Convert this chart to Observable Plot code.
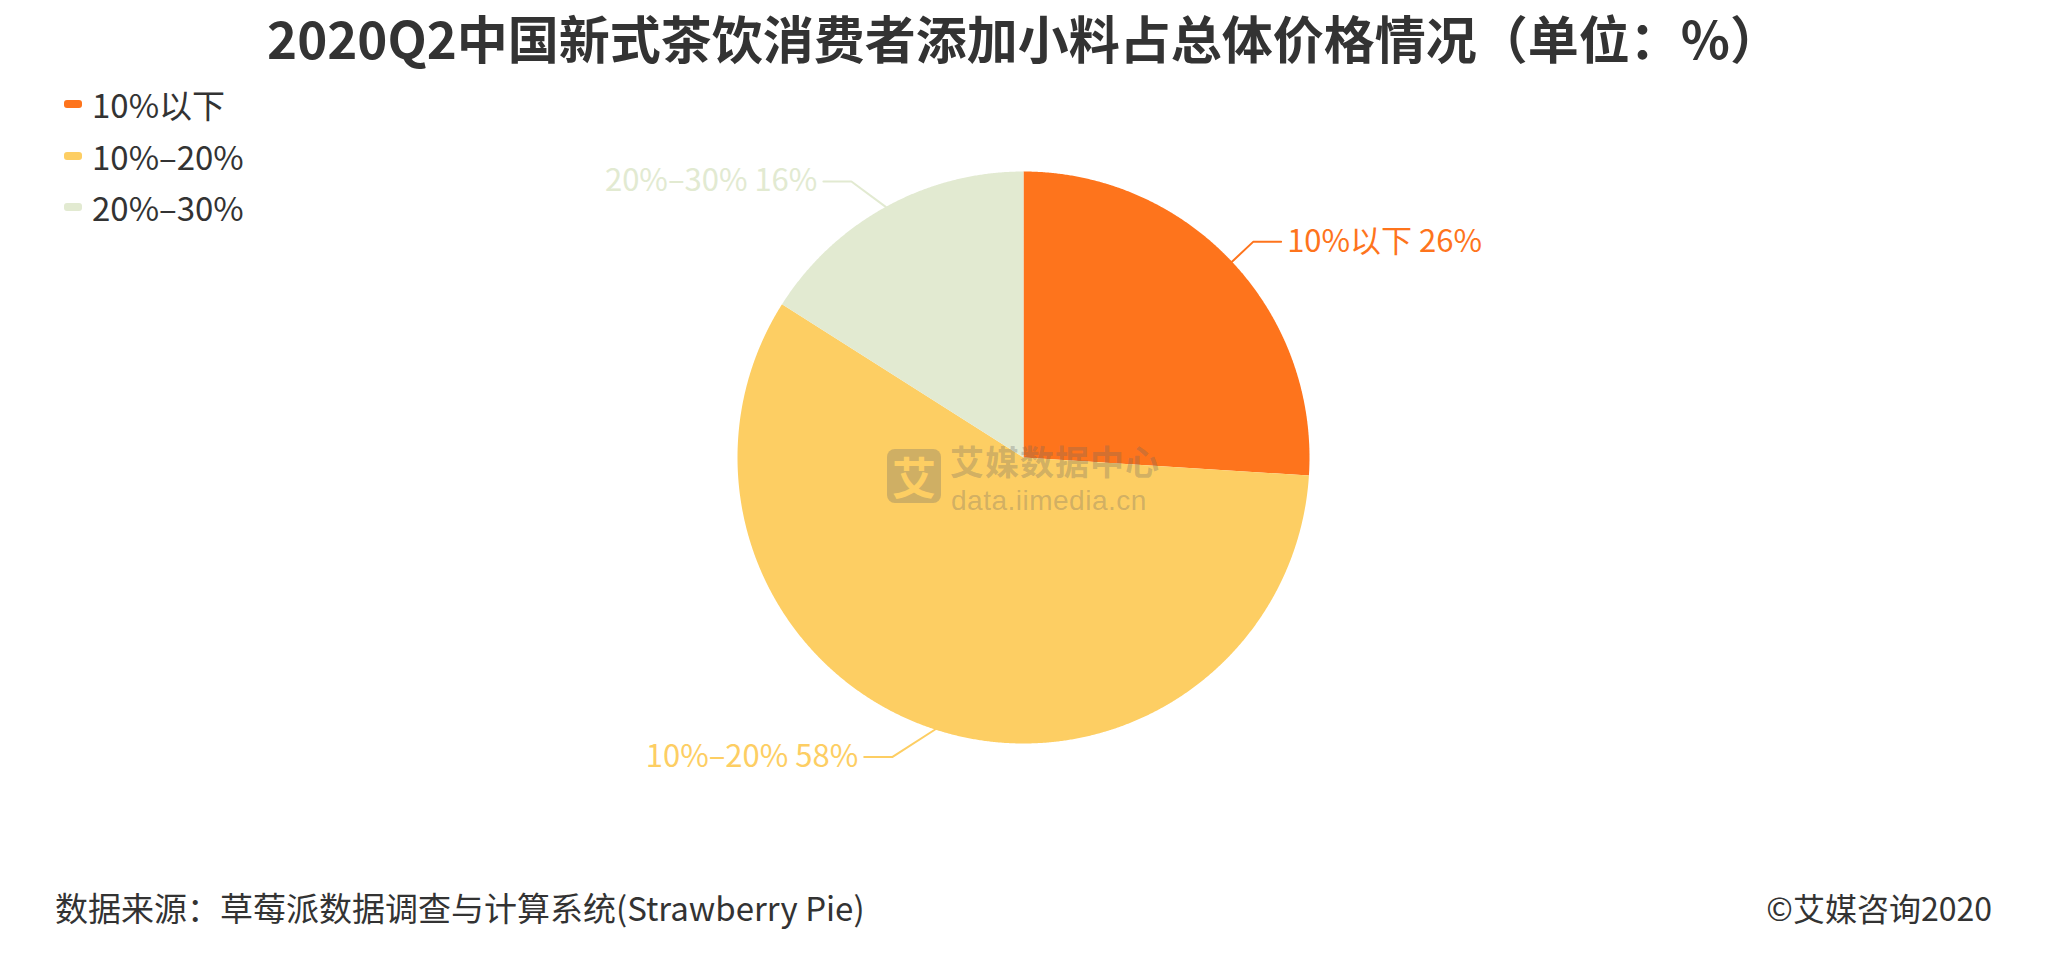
<!DOCTYPE html>
<html><head><meta charset="utf-8">
<script src="https://cdn.jsdelivr.net/npm/d3@7"></script>
<script src="https://cdn.jsdelivr.net/npm/@observablehq/plot@0.6"></script>
<style>
body{margin:0;background:#fff;font-family:"Noto Sans CJK SC","Noto Sans",sans-serif;color:#333;}
#wrap{position:relative;width:2048px;height:953px;overflow:hidden;background:#fff}
#title{height:74px;line-height:74px;text-align:center;font-size:51px;font-weight:bold;color:#333;white-space:nowrap}
#chart{height:786px}
#caption{height:93px;line-height:90px;color:#333;display:flex;justify-content:space-between;align-items:center;padding:0 56px 0 55px}
#capL{font-size:33px}
#capR{font-size:32px}
.lg{position:absolute;left:64px;height:50px;display:flex;align-items:center;font-size:33px;color:#333;white-space:nowrap}
.sw{display:inline-block;width:18px;height:8px;border-radius:3px;margin-right:10px}
#wm{position:absolute;left:0;top:0;pointer-events:none}
#wmbox{position:absolute;left:887px;top:449px;width:54px;height:54px;border-radius:8px;background:rgba(102,102,102,0.3);color:#FDCE63;font-size:44px;font-weight:bold;line-height:54px;text-align:center}
#wmt1{position:absolute;left:950px;top:441px;height:40px;line-height:40px;font-size:34px;font-weight:bold;color:rgba(102,102,102,0.3);white-space:nowrap;letter-spacing:1px}
#wmt2{position:absolute;left:951px;top:486px;height:30px;line-height:30px;font-size:28px;color:rgba(102,102,102,0.3);white-space:nowrap;font-family:"Liberation Sans",sans-serif;letter-spacing:0.5px}
</style></head><body>
<div id="wrap">
<div id="title">2020Q2中国新式茶饮消费者添加小料占总体价格情况（单位：%）</div>
<div id="chart"></div>
<div id="caption"><span id="capL">数据来源：草莓派数据调查与计算系统(Strawberry Pie)</span><span id="capR">©艾媒咨询2020</span></div>
<div id="legend"></div>
<div id="wm"><div id="wmbox">艾</div><div id="wmt1">艾媒数据中心</div><div id="wmt2">data.iimedia.cn</div></div>
</div>
<script>
// ---- data ----
const categories = ["10%以下", "10%–20%", "20%–30%"];
const shares = [26, 58, 16];
const colors = ["#FE741C", "#FDCE63", "#E2EAD1"];

// ---- layout ----
const W = 2048, H = 786, CX = 1023, CY = 457 - 74, R = 286;
const LEN = 29 / R, LEN2 = 28 / R, GAP = 6 / R, RB_PAD = 30 / R;

const data = categories.map((c, i) => ({key: c, value: shares[i]}));
const arcs = d3.pie().sort(null).value(d => d.value)(data);

// slice polygons in unit-radius coordinates (y downward)
const slicePts = [];
arcs.forEach(a => {
  const key = a.data.key;
  const n = Math.max(2, Math.ceil((a.endAngle - a.startAngle) / (Math.PI / 720)));
  slicePts.push({key, x: 0, y: 0});
  for (let i = 0; i <= n; i++) {
    const t = a.startAngle + (a.endAngle - a.startAngle) * i / n;
    slicePts.push({key, x: Math.sin(t), y: -Math.cos(t)});
  }
  slicePts.push({key, x: 0, y: 0});
});

// label layout (outer labels with two-segment guide lines)
const rA = 1 + LEN;
const labels = arcs.map(a => {
  const m = (a.startAngle + a.endAngle) / 2;
  const dx = Math.sin(m), dy = -Math.cos(m);
  return {key: a.data.key, value: a.data.value, dx, dy, side: dx < 0 ? -1 : 1, y2: dy * rA};
});
[-1, 1].forEach(side => {
  const list = labels.filter(l => l.side === side);
  const rB = Math.max(rA, d3.max(list, l => Math.abs(l.y2)) + RB_PAD);
  list.forEach(l => {
    l.x2 = side * rA * Math.sqrt(Math.max(0, 1 - (l.y2 / rB) ** 2));
    l.x3 = l.x2 + side * LEN2;
    l.tx = l.x3 + side * GAP;
  });
});
const guidePts = [];
labels.forEach(l => {
  guidePts.push({key: l.key, x: l.dx, y: l.dy});
  guidePts.push({key: l.key, x: l.x2, y: l.y2});
  guidePts.push({key: l.key, x: l.x3, y: l.y2});
});

const font = '"Noto Sans CJK SC","Noto Sans",sans-serif';
const chart = Plot.plot({
  width: W, height: H, margin: 0,
  x: {domain: [-1, 1], range: [CX - R, CX + R], axis: null},
  y: {domain: [-1, 1], range: [CY - R, CY + R], axis: null},
  color: {domain: categories, range: colors},
  style: {background: "transparent", overflow: "visible"},
  marks: [
    Plot.line(slicePts, {x: "x", y: "y", z: "key", fill: "key", stroke: "none", curve: "linear"}),
    Plot.line(guidePts, {x: "x", y: "y", z: "key", stroke: "key", strokeWidth: 2, fill: "none", curve: "linear"}),
    Plot.text(labels.filter(l => l.side > 0), {x: "tx", y: "y2", text: l => `${l.key} ${l.value}%`, fill: "key",
      textAnchor: "start", lineAnchor: "middle", fontSize: 31, fontFamily: font}),
    Plot.text(labels.filter(l => l.side < 0), {x: "tx", y: "y2", text: l => `${l.key} ${l.value}%`, fill: "key",
      textAnchor: "end", lineAnchor: "middle", fontSize: 31, fontFamily: font})
  ]
});
document.getElementById("chart").appendChild(chart);

// legend
const lg = document.getElementById("legend");
const legendCenters = [104, 156, 207];
categories.forEach((c, i) => {
  const d = document.createElement("div");
  d.className = "lg";
  d.style.top = (legendCenters[i] - 25) + "px";
  d.innerHTML = `<span class="sw" style="background:${colors[i]}"></span><span>${c}</span>`;
  lg.appendChild(d);
});
</script>
</body></html>
